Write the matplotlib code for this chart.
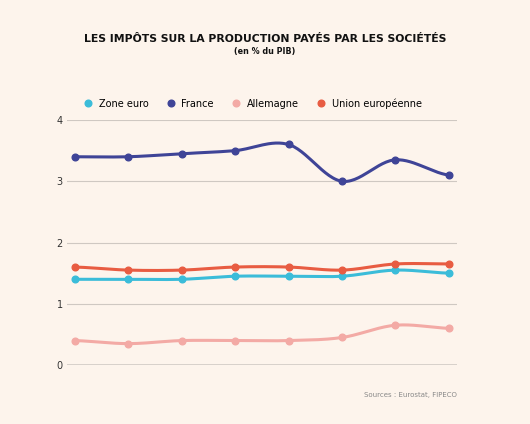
import numpy as np
import matplotlib.pyplot as plt

x = np.arange(8)
zone_euro = [1.4, 1.4, 1.4, 1.45, 1.45, 1.45, 1.55, 1.5]
france = [3.4, 3.4, 3.45, 3.5, 3.6, 3.0, 3.35, 3.1]
allemagne = [0.4, 0.35, 0.4, 0.4, 0.4, 0.45, 0.65, 0.6]
ue = [1.6, 1.55, 1.55, 1.6, 1.6, 1.55, 1.65, 1.65]

bg = '#fdf4ec'

def smooth(xs, ys, n=30):
    # Catmull-Rom spline through the points
    xs = np.asarray(xs, float); ys = np.asarray(ys, float)
    px = np.concatenate([[2*xs[0]-xs[1]], xs, [2*xs[-1]-xs[-2]]])
    py = np.concatenate([[ys[0]], ys, [ys[-1]]])
    ox, oy = [], []
    t = np.linspace(0, 1, n)
    for i in range(1, len(px)-2):
        for arr, out in ((px, ox), (py, oy)):
            p0, p1, p2, p3 = arr[i-1], arr[i], arr[i+1], arr[i+2]
            out.extend(0.5*((2*p1) + (-p0+p2)*t + (2*p0-5*p1+4*p2-p3)*t**2 + (-p0+3*p1-3*p2+p3)*t**3))
    return ox, oy

fig = plt.figure(figsize=(5.3, 4.24), dpi=100, facecolor=bg)
ax = fig.add_axes([0.126, 0.139, 0.736, 0.578], facecolor=bg)

series = [('Zone euro', zone_euro, '#3bbcd9'), ('France', france, '#3f4497'),
          ('Allemagne', allemagne, '#f3aaa5'), ('Union européenne', ue, '#e85c42')]
for name, ys, c in series:
    sx, sy = smooth(x, ys)
    ax.plot(sx, sy, color=c, lw=2.2)
    ax.plot(x, ys, 'o', color=c, ms=4.8, label=name)

ax.set_xlim(-0.15, 7.15)
ax.set_ylim(0, 4)
ax.set_yticks([0, 1, 2, 3, 4])
ax.set_xticks([])
for v in [1, 2, 3, 4]:
    ax.axhline(v, color='#cfc8c2', lw=0.8, zorder=0)
ax.axhline(0, color='#444444', lw=1, zorder=0)
for s in ax.spines.values():
    s.set_visible(False)
ax.tick_params(axis='y', length=0, labelsize=7, colors='#333333', pad=3)

ax.legend(loc='lower center', bbox_to_anchor=(0.47, 1.01), ncol=4, frameon=False,
          fontsize=7, handletextpad=0.1, columnspacing=1.3, markerscale=1.0)

fig.text(0.5, 0.9, 'LES IMPÔTS SUR LA PRODUCTION PAYÉS PAR LES SOCIÉTÉS',
         ha='center', fontsize=7.8, fontweight='bold', color='#111111')
fig.text(0.5, 0.872, '(en % du PIB)', ha='center', fontsize=5.8, fontweight='bold', color='#111111')
fig.text(0.862, 0.063, 'Sources : Eurostat, FIPECO', ha='right', fontsize=5, color='#888888')

fig.savefig('out.png', dpi=100, facecolor=bg)
